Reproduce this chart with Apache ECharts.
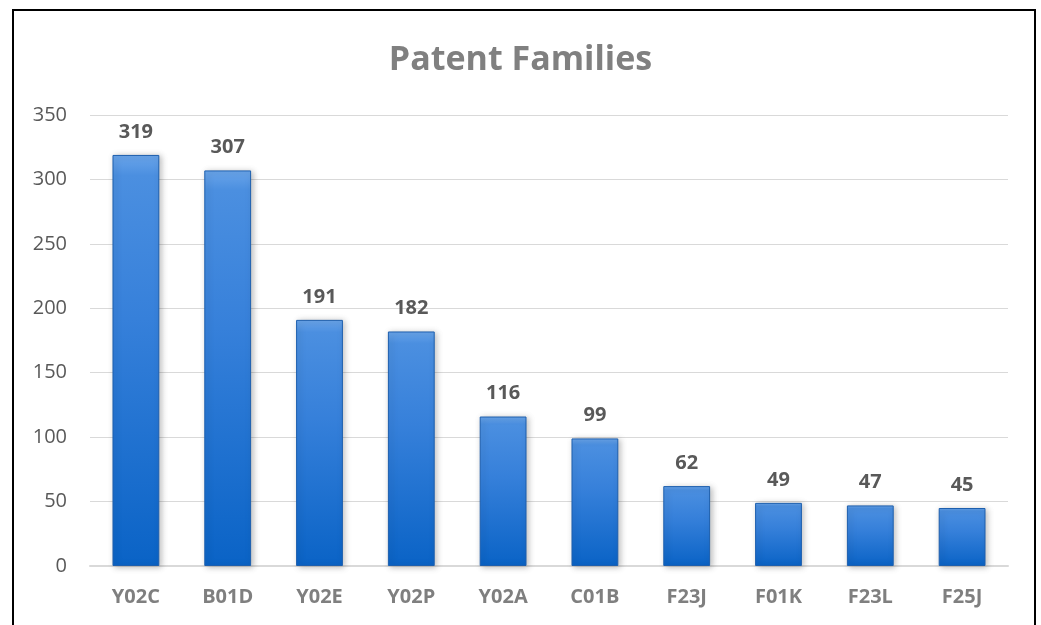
<!DOCTYPE html>
<html><head><meta charset="utf-8">
<script src="https://cdn.jsdelivr.net/npm/echarts@6/dist/echarts.min.js"></script>
<style>html,body{margin:0;padding:0;background:#fff}#c{width:1041px;height:625px}</style>
</head><body><div id="c"></div>
<script>
var categories = ['Y02C','B01D','Y02E','Y02P','Y02A','C01B','F23J','F01K','F23L','F25J'];
var values = [319,307,191,182,116,99,62,49,47,45];
var yTicks = [0,50,100,150,200,250,300,350];
var FONT = "'Open Sans', 'Noto Sans', sans-serif";
var chart = echarts.init(document.getElementById('c'), null, {renderer:'canvas'});
chart.setOption({
  animation:false,
  backgroundColor:'#fff',
  title:{text:'Patent Families', left:'center', top:38,
    textStyle:{color:'#808080', fontSize:34, fontWeight:'bold', fontFamily:FONT}},
  graphic:[{type:'rect', shape:{x:13,y:10,width:1022,height:700},
    style:{fill:'none', stroke:'#000', lineWidth:2}, silent:true}],
  grid:{left:90, right:33, top:115, bottom:59, containLabel:false},
  xAxis:{type:'category', data:categories,
    axisLine:{lineStyle:{color:'#d9d9d9', width:2}}, axisTick:{show:false},
    axisLabel:{color:'#7f7f7f', fontSize:20, fontWeight:'bold', fontFamily:FONT, margin:21}},
  yAxis:{type:'value', min:yTicks[0], max:yTicks[yTicks.length-1], interval:50,
    axisLine:{show:false}, axisTick:{show:false},
    splitLine:{lineStyle:{color:'#d9d9d9', width:1}},
    axisLabel:{color:'#595959', fontSize:20, fontFamily:FONT, margin:23}},
  series:[{type:'bar', data:values, barWidth:'51%',
    itemStyle:{color:new echarts.graphic.LinearGradient(0,0,0,1,[
      {offset:0,color:'#6aa5ea'},{offset:0.05,color:'#4b8fe0'},{offset:0.4,color:'#3680da'},{offset:1,color:'#0a63c6'}]),
      borderColor:'#1d5fae', borderWidth:1,
      shadowColor:'rgba(0,0,0,0.25)', shadowBlur:6, shadowOffsetX:2, shadowOffsetY:1},
    label:{show:true, position:'top', distance:13, color:'#595959', fontSize:20, fontWeight:'bold', fontFamily:FONT}}]
});
</script></body></html>
